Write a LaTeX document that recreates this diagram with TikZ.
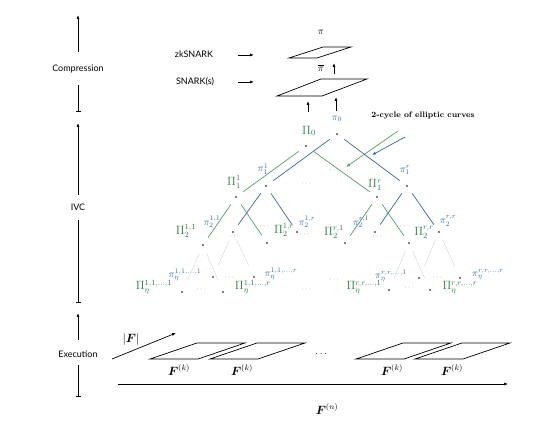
\documentclass[tikz,border=0pt]{standalone}
\usepackage{amsmath}
\usepackage{fontspec}
\setsansfont{Lato}
\usetikzlibrary{arrows.meta}
\definecolor{pgreen}{RGB}{46,125,72}
\definecolor{pblue}{RGB}{52,104,190}
\definecolor{lgreen}{RGB}{84,158,100}
\definecolor{lblue}{RGB}{60,100,165}
\definecolor{faint}{RGB}{212,224,216}
\begin{document}
\begin{tikzpicture}[x=1pt,y=-1pt,
    arr/.style={-{Latex[length=4pt,width=3pt]},line width=0.7pt},
    barln/.style={-{Bar[width=5pt]},line width=0.7pt},
    side/.style={font=\sffamily\small},
    dot/.style={circle,fill,inner sep=0pt,minimum size=1.6pt},
    gedge/.style={lgreen,line width=0.7pt,shorten <=8pt,shorten >=8pt},
    bedge/.style={lblue,line width=0.7pt,shorten <=8pt,shorten >=8pt},
    fedge/.style={faint,line width=0.6pt,shorten <=8pt,shorten >=12pt},
    glab/.style={pgreen,font=\large,inner sep=1pt},
    blab/.style={pblue,inner sep=1pt},
    gap/.style={gray,font=\footnotesize,inner sep=0pt},
    flab/.style={font=\large,inner sep=1pt},
    sheet/.style={line width=0.7pt}]
\useasboundingbox (0,0) rectangle (560,427);

% phases on the left
\node[side] (cmp) at (78,69) {Compression};
\node[side] (ivc) at (78,207) {IVC};
\node[side] (exe) at (78,354) {Execution};
\coordinate (cmpA) at (78,52);  \coordinate (cmpB) at (78,15);
\coordinate (cmpC) at (78,85);  \coordinate (cmpD) at (78,112);
\coordinate (ivcA) at (78,195); \coordinate (ivcB) at (78,123);
\coordinate (ivcC) at (78,220); \coordinate (ivcD) at (78,303);
\coordinate (exeA) at (78,340); \coordinate (exeB) at (78,313);
\coordinate (exeC) at (78,365); \coordinate (exeD) at (78,397);
\draw[arr] (cmpA) -- (cmpB);
\draw[barln] (cmpC) -- (cmpD);
\draw[arr] (ivcA) -- (ivcB);
\draw[barln] (ivcC) -- (ivcD);
\draw[arr] (exeA) -- (exeB);
\draw[barln] (exeC) -- (exeD);

% compression
\node[side] (zk) at (194,54) {zkSNARK};
\node[side] (sn) at (195,82) {SNARK(s)};
\coordinate (zkA) at (238,55); \coordinate (zkB) at (254,55);
\coordinate (snA) at (238,82); \coordinate (snB) at (254,82);
\draw[arr] (zkA) -- (zkB);
\draw[arr] (snA) -- (snB);
\draw[sheet] (289,58) -- (317,58) -- (351,47) -- (323,47) -- cycle;
\draw[sheet] (277,96) -- (322,96) -- (367,79) -- (321,79) -- cycle;
\node (pi) at (321,32) {$\pi$};
\node (pibar) at (321,68) {$\overline{\pi}$};
\coordinate (pbA) at (334,74);  \coordinate (pbB) at (334,63);
\coordinate (upA) at (308,112); \coordinate (upB) at (308,101);
\coordinate (upC) at (336,111); \coordinate (upD) at (336,97);
\draw[arr] (pbA) -- (pbB);
\draw[arr] (upA) -- (upB);
\draw[arr] (upC) -- (upD);

% 2-cycle
\node[font=\footnotesize\bfseries] (cyc) at (423,116) {2-cycle of elliptic curves};
\coordinate (cgA) at (398,131); \coordinate (cgB) at (346,167);
\coordinate (cbA) at (405,137); \coordinate (cbB) at (372,155);
\draw[arr,lgreen] (cgA) -- (cgB);
\draw[arr,lblue] (cbA) -- (cbB);

% proofs
\node[glab] (P0) at (309,131) {$\Pi_0$};
\node[glab] (P11) at (234,182) {$\Pi_1^1$};
\node[glab] (P1r) at (375,185) {$\Pi_1^r$};
\node[glab] (P211) at (186,231) {$\Pi_2^{1,1}$};
\node[glab] (P21r) at (284,230) {$\Pi_2^{1,r}$};
\node[glab] (P2r1) at (334,232) {$\Pi_2^{r,1}$};
\node[glab] (P2rr) at (424,232) {$\Pi_2^{r,r}$};
\node[glab] (Pe1) at (154,287) {$\Pi_\eta^{1,1,\dots,1}$};
\node[glab] (Pe2) at (253,287) {$\Pi_\eta^{1,1,\dots,r}$};
\node[glab] (Pe3) at (364,287) {$\Pi_\eta^{r,r,\dots,1}$};
\node[glab] (Pe4) at (460,288) {$\Pi_\eta^{r,r,\dots,r}$};
\node[blab] (p0) at (337,119) {$\pi_0$};
\node[blab] (p11) at (263,169) {$\pi_1^1$};
\node[blab] (p1r) at (405,170) {$\pi_1^r$};
\node[blab] (p211) at (212,222) {$\pi_2^{1,1}$};
\node[blab] (p21r) at (307,222) {$\pi_2^{1,r}$};
\node[blab] (p2r1) at (361,222) {$\pi_2^{r,1}$};
\node[blab] (p2rr) at (448,221) {$\pi_2^{r,r}$};
\node[blab] (pe1) at (185,275) {$\pi_\eta^{1,1,\dots,1}$};
\node[blab] (pe2) at (281,274) {$\pi_\eta^{1,1,\dots,r}$};
\node[blab] (pe3) at (391,276) {$\pi_\eta^{r,r,\dots,1}$};
\node[blab] (pe4) at (488,275) {$\pi_\eta^{r,r,\dots,r}$};

% tree dots
\node[dot] (g0) at (306,146) {};
\node[dot] (g11) at (236,197) {};
\node[dot] (g1r) at (377,197) {};
\node[dot] (g211) at (203,245) {};
\node[dot] (g21r) at (267,243) {};
\node[dot] (g2r1) at (345,243) {};
\node[dot] (g2rr) at (409,243) {};
\node[dot] (b0) at (337,134) {};
\node[dot] (b11) at (266,186) {};
\node[dot] (b1r) at (407,186) {};
\node[dot] (b211) at (233,232) {};
\node[dot] (b21r) at (297,232) {};
\node[dot] (b2r1) at (375,232) {};
\node[dot] (b2rr) at (439,232) {};
\node[dot] (l1) at (182,292) {};
\node[dot] (l2) at (213,277) {};
\node[dot] (l3) at (223,292) {};
\node[dot] (l4) at (254,277) {};
\node[dot] (r1) at (389,290) {};
\node[dot] (r2) at (419,278) {};
\node[dot] (r3) at (430,290) {};
\node[dot] (r4) at (460,278) {};

% edges
\draw[gedge] (g0) -- (g11);
\draw[gedge] (g0) -- (g1r);
\draw[gedge] (g11) -- (g211);
\draw[gedge] (g11) -- (g21r);
\draw[gedge] (g1r) -- (g2r1);
\draw[gedge] (g1r) -- (g2rr);
\draw[bedge] (b0) -- (b11);
\draw[bedge] (b0) -- (b1r);
\draw[bedge] (b11) -- (b211);
\draw[bedge] (b11) -- (b21r);
\draw[bedge] (b1r) -- (b2r1);
\draw[bedge] (b1r) -- (b2rr);
\draw[fedge] (g211) -- (l1);
\draw[fedge] (g211) -- (l3);
\draw[fedge] (b211) -- (l2);
\draw[fedge] (b211) -- (l4);
\draw[fedge] (g2rr) -- (r1);
\draw[fedge] (g2rr) -- (r3);
\draw[fedge] (b2rr) -- (r2);
\draw[fedge] (b2rr) -- (r4);

% gaps
\node[gap] (d1) at (307,184) {$\cdots$};
\node[gap] (d2) at (335,171) {$\cdots$};
\node[gap] (d3) at (235,237) {$\cdots$};
\node[gap] (d4) at (265,227) {$\cdots$};
\node[gap] (d5) at (305,235) {$\cdots$};
\node[gap] (d6) at (378,237) {$\cdots$};
\node[gap] (d7) at (405,227) {$\cdots$};
\node[gap] (d8) at (202,290) {$\cdots$};
\node[gap] (d9) at (230,278) {$\cdots$};
\node[gap] (d10) at (307,290) {$\cdots$};
\node[gap] (d11) at (335,280) {$\cdots$};
\node[gap] (d12) at (410,288) {$\cdots$};
\node[gap] (d13) at (438,278) {$\cdots$};

% execution
\node[flab] (absF) at (131,340) {$|\boldsymbol{F}|$};
\coordinate (fA) at (112,359); \coordinate (fB) at (176,333);
\draw[arr] (fA) -- (fB);
\foreach \x in {150,210,356,415}
  \draw[sheet] (\x,359) -- ++(48,0) -- ++(47,-16) -- ++(-48,0) -- cycle;
\node[flab] (Fk1) at (179,370) {$\boldsymbol{F}^{(k)}$};
\node[flab] (Fk2) at (242,370) {$\boldsymbol{F}^{(k)}$};
\node[flab] (Fk3) at (392,370) {$\boldsymbol{F}^{(k)}$};
\node[flab] (Fk4) at (452,370) {$\boldsymbol{F}^{(k)}$};
\node (ed) at (322,354) {$\cdots$};
\coordinate (nA) at (118,384); \coordinate (nB) at (508,384);
\draw[arr] (nA) -- (nB);
\node[flab] (Fn) at (327,409) {$\boldsymbol{F}^{(n)}$};
\end{tikzpicture}
\end{document}
